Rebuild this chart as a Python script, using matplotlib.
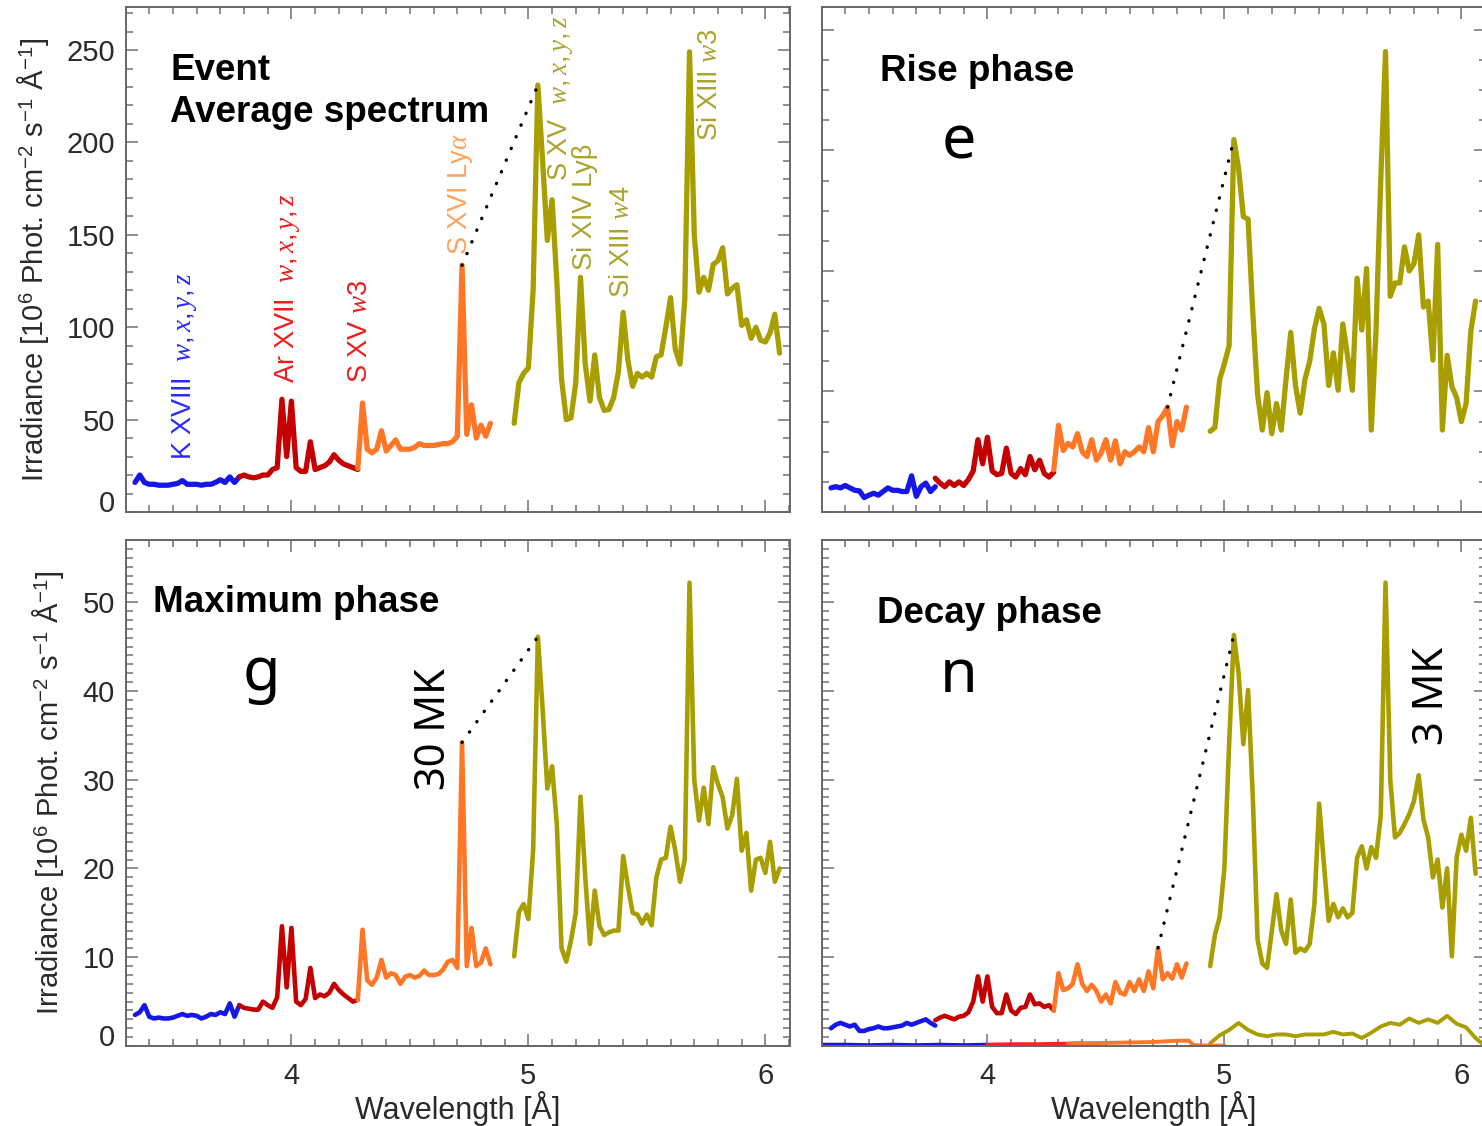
import matplotlib.pyplot as plt
from matplotlib.ticker import MultipleLocator, FuncFormatter

plt.rcParams['font.family'] = ['Liberation Sans', 'DejaVu Sans']
plt.rcParams['mathtext.fontset'] = 'custom'
plt.rcParams['mathtext.rm'] = 'Liberation Sans'
plt.rcParams['mathtext.it'] = 'Liberation Serif:italic'
plt.rcParams['mathtext.bf'] = 'Liberation Sans:bold'

# wavelength sampling of the four channels [Å]
wl_blue = [3.34, 3.36, 3.38, 3.40, 3.42, 3.44, 3.46, 3.48, 3.50, 3.52, 3.54, 3.56,
           3.58, 3.60, 3.62, 3.64, 3.66, 3.68, 3.70, 3.72, 3.74, 3.76, 3.78]
wl_red = [3.78, 3.80, 3.82, 3.84, 3.86, 3.88, 3.90, 3.92, 3.94, 3.96, 3.98, 4.00, 4.02,
          4.04, 4.06, 4.08, 4.10, 4.12, 4.14, 4.16, 4.18, 4.20, 4.22, 4.24, 4.26, 4.28]
wl_orange = [4.28, 4.30, 4.32, 4.34, 4.36, 4.38, 4.40, 4.42, 4.44, 4.46, 4.48, 4.50, 4.52,
             4.54, 4.56, 4.58, 4.60, 4.62, 4.64, 4.66, 4.68, 4.70, 4.72, 4.74, 4.76, 4.78,
             4.80, 4.82, 4.84]
wl_olive = [4.94, 4.96, 4.98, 5.00, 5.02, 5.04, 5.06, 5.08, 5.10, 5.12, 5.14, 5.16, 5.18,
            5.20, 5.22, 5.24, 5.26, 5.28, 5.30, 5.32, 5.34, 5.36, 5.38, 5.40, 5.42, 5.44,
            5.46, 5.48, 5.50, 5.52, 5.54, 5.56, 5.58, 5.60, 5.62, 5.64, 5.66, 5.68, 5.70,
            5.72, 5.74, 5.76, 5.78, 5.80, 5.82, 5.84, 5.86, 5.88, 5.90, 5.92, 5.94, 5.96,
            5.98, 6.00, 6.02, 6.04, 6.06]

# event average spectrum
avg_blue = [16, 20, 16, 15, 15, 14.5, 14.5, 14.5, 15, 15.5, 17, 15, 15, 15, 14.5, 15, 15,
            16, 17.5, 16, 19, 16, 19]
avg_red = [19, 20, 19, 18.5, 19, 20, 20, 23, 24, 61, 30, 60, 24, 22, 22, 38, 23, 24, 25,
           27, 31, 28, 26, 25, 24, 23]
avg_orange = [23.5, 59, 34, 32, 34, 44, 33, 36, 39, 34, 34, 34, 35, 37, 36, 36, 36, 36.5,
              37, 37, 38, 41, 133.5, 42, 58, 40, 47, 41, 48]
avg_olive = [48, 70, 75, 78, 120, 231, 190, 147, 169, 125, 72, 50, 51, 70, 127, 80, 60, 85,
             62, 55, 55.5, 62, 76, 108, 82, 68, 75, 73, 75, 73, 84, 85, 100, 116, 88, 80,
             115, 249, 150, 119, 127, 120, 134, 136, 143, 118, 121, 123, 101, 104, 94, 100,
             93, 92, 97, 107, 86]

# rise phase
rise_blue = [2.0, 2.1, 2.0, 2.2, 2.0, 1.8, 1.75, 1.2, 1.4, 1.55, 1.4, 1.7, 2.0, 1.8, 1.8,
             1.7, 1.7, 3.0, 1.3, 2.1, 2.4, 1.7, 2.1]
rise_red = [2.8, 2.4, 2.1, 2.5, 2.2, 2.5, 2.2, 2.7, 3.4, 6.0, 4.0, 6.2, 3.4, 3.1, 3.2, 5.3,
            3.2, 2.9, 3.6, 3.1, 4.6, 3.5, 4.3, 3.2, 2.9, 3.3]
rise_orange = [3.5, 7.2, 5.1, 5.7, 5.4, 6.5, 5.0, 4.6, 6.0, 4.3, 4.9, 6.0, 4.3, 5.9, 4.0,
               5.0, 4.7, 5.0, 5.4, 5.0, 7.0, 5.0, 7.5, 8.0, 8.7, 5.5, 7.5, 6.8, 8.7]
rise_olive = [6.7, 7.0, 11.0, 12.3, 13.8, 30.9, 28.5, 24.5, 24.3, 16.5, 9.8, 6.8, 9.9, 6.5,
              9.0, 6.8, 11.0, 14.9, 10.5, 8.2, 11.0, 12.5, 15.2, 16.9, 15.6, 10.5, 13.2,
              10.1, 15.6, 12.9, 10.1, 19.4, 15.1, 20.2, 6.8, 15.1, 27.6, 38.2, 17.9, 19.0,
              19.0, 22.0, 20.0, 20.6, 23.0, 17.0, 17.5, 12.6, 22.2, 6.8, 13.0, 10.4, 9.5,
              7.5, 9.0, 15.0, 17.5]

# maximum phase
max_blue = [3.5, 3.8, 4.6, 3.3, 3.1, 3.2, 3.1, 3.1, 3.2, 3.4, 3.6, 3.4, 3.5, 3.4, 3.1, 3.3,
            3.6, 3.5, 3.8, 3.6, 4.8, 3.3, 4.6]
max_red = [4.6, 4.3, 4.2, 4.1, 4.1, 5.0, 4.6, 4.3, 5.5, 13.5, 6.6, 13.3, 5.0, 4.6, 5.3, 8.8,
           5.4, 5.8, 5.6, 6.0, 7.0, 6.3, 5.8, 5.4, 5.0, 5.2]
max_orange = [5.2, 13.1, 7.4, 6.9, 7.7, 9.7, 7.7, 8.2, 8.0, 7.0, 7.8, 8.0, 7.7, 7.9, 8.5,
              8.0, 8.0, 8.1, 8.6, 9.5, 9.7, 8.8, 34.2, 9.0, 13.3, 9.0, 9.4, 11.0, 9.2]
max_olive = [10.1, 15.1, 16.0, 14.3, 22.0, 46.1, 38.0, 29.0, 31.5, 25.0, 11.0, 9.5, 11.9,
             15.0, 28.1, 19.0, 11.5, 17.5, 13.5, 12.5, 12.8, 13.0, 13.0, 21.4, 18.0, 15.0,
             14.8, 13.8, 14.8, 13.6, 19.0, 21.0, 21.2, 24.7, 22.0, 18.5, 21.0, 52.2, 30.0,
             25.4, 29.1, 25.0, 31.4, 29.5, 28.0, 24.5, 26.0, 30.1, 22.0, 24.0, 17.5, 21.0,
             21.2, 19.5, 23.0, 18.5, 20.0]

# decay phase
decay_blue = [2.0, 2.4, 2.6, 2.4, 2.2, 2.4, 1.7, 1.7, 1.9, 2.0, 2.2, 2.0, 2.0, 2.1, 2.2,
              2.3, 2.6, 2.4, 2.6, 2.8, 3.0, 2.6, 2.3]
decay_red = [2.9, 3.2, 3.4, 3.2, 3.0, 3.3, 3.4, 3.8, 5.0, 7.85, 5.0, 7.85, 4.4, 3.7, 3.7,
             5.8, 4.0, 3.6, 4.3, 4.4, 5.8, 4.7, 4.8, 4.4, 4.6, 4.0]
decay_orange = [4.0, 8.2, 6.3, 6.5, 7.0, 9.2, 7.0, 6.2, 6.9, 6.2, 5.0, 5.8, 4.8, 7.2, 6.0,
                5.8, 7.2, 6.2, 7.5, 6.2, 8.4, 6.5, 11.05, 7.5, 8.2, 7.6, 9.2, 7.7, 9.3]
decay_olive = [9.0, 12.5, 14.5, 20.0, 34.0, 46.3, 42.0, 34.0, 40.1, 28.0, 12.0, 9.3, 8.8,
               12.9, 17.1, 13.0, 11.5, 16.5, 10.5, 11.0, 10.7, 11.5, 16.0, 27.3, 20.5, 14.1,
               16.0, 14.5, 15.5, 14.5, 15.0, 21.2, 22.5, 20.0, 22.4, 21.2, 26.0, 52.2, 30.0,
               23.5, 24.0, 25.0, 26.1, 27.6, 30.5, 25.5, 23.5, 19.0, 21.0, 15.6, 20.0, 10.1,
               21.2, 23.8, 22.0, 25.7, 19.4]

# weak background spectrum drawn under the decay phase
bg_wl_blue = [3.30, 3.40, 3.50, 3.60, 3.70, 3.80, 3.90, 4.00]
bg_blue = [0.15, 0.15, 0.1, 0.15, 0.1, 0.15, 0.1, 0.15]
bg_wl_red = [4.00, 4.10, 4.20, 4.30, 4.40]
bg_red = [0.15, 0.2, 0.2, 0.25, 0.3]
bg_wl_orange = [4.34, 4.40, 4.50, 4.60, 4.70, 4.80, 4.85, 4.87, 4.93, 5.00]
bg_orange = [0.25, 0.3, 0.35, 0.4, 0.45, 0.6, 0.6, 0.1, 0.05, 0.05]
bg_wl_olive = [4.94, 4.98, 5.02, 5.06, 5.10, 5.14, 5.18, 5.22, 5.26, 5.30, 5.34, 5.38,
               5.42, 5.46, 5.50, 5.54, 5.58, 5.62, 5.66, 5.70, 5.74, 5.78, 5.82, 5.86,
               5.90, 5.94, 5.98, 6.02, 6.06, 6.10]
bg_olive = [0.3, 1.2, 1.8, 2.6, 1.8, 1.3, 1.1, 1.3, 1.3, 1.1, 1.3, 1.3, 1.3, 1.6, 1.3, 1.4,
            0.9, 1.5, 2.2, 2.6, 2.4, 3.1, 2.6, 3.0, 2.6, 3.4, 2.5, 2.1, 0.9, 0.0]

BLUE = '#1616e8'
RED = '#c40000'
ORANGE = '#ff7726'
OLIVE = '#a89e00'
TEXT_DARK = '#2a2a2a'
SANS2 = ['Noto Sans', 'DejaVu Sans']

W, H = 1482, 1126
fig = plt.figure(figsize=(W / 100, H / 100), dpi=100)
ax_avg = fig.add_axes([126 / W, 1 - 512 / H, 664 / W, 505 / H])
ax_rise = fig.add_axes([822 / W, 1 - 512 / H, 664 / W, 505 / H])
ax_max = fig.add_axes([126 / W, 1 - 1046 / H, 664 / W, 506 / H])
ax_dec = fig.add_axes([822 / W, 1 - 1046 / H, 664 / W, 506 / H])


def draw_spectrum(ax, blue, red, orange, olive, lw):
    kw = dict(lw=lw, solid_joinstyle='round', solid_capstyle='round')
    ax.plot(wl_blue, blue, color=BLUE, **kw)
    ax.plot(wl_red, red, color=RED, **kw)
    ax.plot(wl_orange, orange, color=ORANGE, **kw)
    ax.plot(wl_olive, olive, color=OLIVE, **kw)


def link_peaks(ax, wl_start, orange, olive, wl_end=5.04):
    ax.plot([wl_start, wl_end],
            [orange[wl_orange.index(wl_start)], olive[wl_olive.index(wl_end)]],
            color='black', lw=2.4, linestyle=(0, (0.1, 3.7)), dash_capstyle='round')


def style_axes(ax, ymax, ymajor, yminor, xlabels, ylabels):
    ax.set_xlim(3.302, 6.104)
    ax.set_ylim(0, ymax)
    ax.xaxis.set_major_locator(MultipleLocator(1))
    ax.xaxis.set_minor_locator(MultipleLocator(0.1))
    ax.yaxis.set_major_locator(MultipleLocator(ymajor))
    ax.yaxis.set_minor_locator(MultipleLocator(yminor))
    ax.tick_params(which='both', direction='in', top=True, right=True,
                   color='#707070', width=1.1, labelsize=21, labelcolor=TEXT_DARK,
                   labelbottom=xlabels, labelleft=ylabels)
    ax.tick_params(which='major', length=8.6)
    ax.tick_params(which='minor', length=5)
    ax.tick_params(axis='x', pad=11.5)
    ax.tick_params(axis='y', pad=8)
    for sp in ax.spines.values():
        sp.set_color('#666666')
        sp.set_linewidth(1.4)
    if ylabels:
        # the zero label sits on the axis line instead of centred on the tick
        ax.yaxis.set_major_formatter(FuncFormatter(lambda v, p: '' if v == 0 else f'{v:g}'))
        ax.text(-0.0166, 0, '0', transform=ax.get_yaxis_transform(), ha='right',
                va='baseline', fontsize=21, color=TEXT_DARK)


ylabel = r'Irradiance [10$^6$ Phot. cm$^{-2}$ s$^{-1}$ Å$^{-1}$]'

# Event average
draw_spectrum(ax_avg, avg_blue, avg_red, avg_orange, avg_olive, 3.8)
link_peaks(ax_avg, 4.72, avg_orange, avg_olive)
style_axes(ax_avg, 273.3, 50, 10, False, True)
ax_avg.set_ylabel(ylabel, fontsize=21, color=TEXT_DARK)
ax_avg.yaxis.set_label_coords(-0.113, 0.5)
ax_avg.text(0.0663, 0.8554, 'Event', transform=ax_avg.transAxes, fontsize=26.5,
            fontweight='bold', va='baseline')
ax_avg.text(0.0663, 0.7723, 'Average spectrum', transform=ax_avg.transAxes, fontsize=26.5,
            fontweight='bold', va='baseline')

line_labels = [
    (3.549, 28, r'K XVIII  $\mathit{w,x,y,z}$', '#2a2aff'),
    (3.983, 70, r'Ar XVII  $\mathit{w,x,y,z}$', '#ee1c1c'),
    (4.291, 70, r'S XV $\mathit{w3}$', '#ee1c1c'),
    (4.713, 139, r'S XVI Ly$\alpha$', '#ffa25e'),
    (5.135, 179, r'S XV  $\mathit{w,x,y,z}$', '#aaa42c'),
    (5.240, 131, 'Si XIV Lyβ', '#aaa42c'),
    (5.397, 116, r'Si XIII $\mathit{w4}$', '#aaa42c'),
    (5.768, 201, r'Si XIII $\mathit{w3}$', '#aaa42c'),
]
for x, y, s, c in line_labels:
    ax_avg.text(x, y, s, rotation=90, ha='center', va='bottom', fontsize=19.5, color=c)

# Rise phase
draw_spectrum(ax_rise, rise_blue, rise_red, rise_orange, rise_olive, 3.8)
link_peaks(ax_rise, 4.76, rise_orange, rise_olive)
style_axes(ax_rise, 41.9, 10, 2.5, False, False)
ax_rise.text(0.0873, 0.8535, 'Rise phase', transform=ax_rise.transAxes, fontsize=26.5,
             fontweight='bold', va='baseline')
ax_rise.text(0.2059, 0.700, 'e', transform=ax_rise.transAxes, fontsize=44, family=SANS2,
             ha='center', va='baseline')

# Maximum phase
draw_spectrum(ax_max, max_blue, max_red, max_orange, max_olive, 3.3)
link_peaks(ax_max, 4.72, max_orange, max_olive)
style_axes(ax_max, 57.0, 10, 1, True, True)
ax_max.set_ylabel(ylabel, fontsize=21, color=TEXT_DARK)
ax_max.yaxis.set_label_coords(-0.09, 0.5)
ax_max.set_xlabel('Wavelength [Å]', fontsize=22, color=TEXT_DARK)
ax_max.xaxis.set_label_coords(0.5, -0.088)
ax_max.text(0.0411, 0.8583, 'Maximum phase', transform=ax_max.transAxes, fontsize=26.5,
            fontweight='bold', va='baseline')
ax_max.text(0.2043, 0.7042, 'g', transform=ax_max.transAxes, fontsize=44, family=SANS2,
            ha='center', va='baseline')
ax_max.text(0.4639, 0.6255, '30 MK', transform=ax_max.transAxes, fontsize=30,
            family=SANS2, rotation=90, ha='center', va='center')

# Decay phase, with the weak background spectrum underneath
kw_bg = dict(lw=2.8, solid_capstyle='round')
ax_dec.plot(bg_wl_blue, bg_blue, color=BLUE, **kw_bg)
ax_dec.plot(bg_wl_red, bg_red, color='#ff2020', **kw_bg)
ax_dec.plot(bg_wl_orange, bg_orange, color=ORANGE, **kw_bg)
ax_dec.plot(bg_wl_olive, bg_olive, color=OLIVE, **kw_bg)
draw_spectrum(ax_dec, decay_blue, decay_red, decay_orange, decay_olive, 3.3)
link_peaks(ax_dec, 4.72, decay_orange, decay_olive)
style_axes(ax_dec, 57.0, 10, 1, True, False)
ax_dec.set_xlabel('Wavelength [Å]', fontsize=22, color=TEXT_DARK)
ax_dec.xaxis.set_label_coords(0.5, -0.088)
ax_dec.text(0.0834, 0.8356, 'Decay phase', transform=ax_dec.transAxes, fontsize=26.5,
            fontweight='bold', va='baseline')
ax_dec.text(0.2059, 0.7004, 'n', transform=ax_dec.transAxes, fontsize=44, family=SANS2,
            ha='center', va='baseline')
ax_dec.text(0.918, 0.6911, '3 MK', transform=ax_dec.transAxes, fontsize=30,
            family=SANS2, rotation=90, ha='center', va='center')

fig.savefig('out.png', dpi=100, facecolor='white')
